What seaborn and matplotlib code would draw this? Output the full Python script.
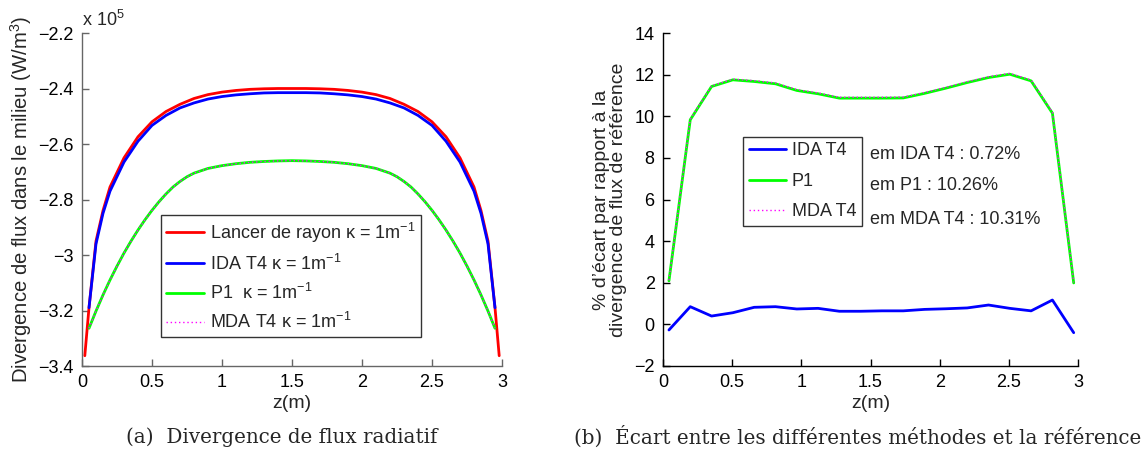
import matplotlib
matplotlib.use("Agg")
import matplotlib.pyplot as plt
import seaborn as sns
import pandas as pd
from matplotlib.ticker import FuncFormatter, MultipleLocator

# ---------------- data (a): flux divergence, units of 1e5 W/m^3 ----------------
z_ray = [0.02, 0.05, 0.1, 0.15, 0.2, 0.3, 0.4, 0.5, 0.6, 0.7, 0.8, 0.9, 1.0, 1.1, 1.2, 1.3, 1.4, 1.5,
         1.6, 1.7, 1.8, 1.9, 2.0, 2.1, 2.2, 2.3, 2.4, 2.5, 2.6, 2.7, 2.8, 2.85, 2.9, 2.95, 2.98]
ray_flux = [-3.363, -3.19, -2.95, -2.84, -2.755, -2.65, -2.574, -2.52, -2.483, -2.457, -2.436, -2.422,
            -2.413, -2.407, -2.403, -2.401, -2.400, -2.400,
            -2.400, -2.401, -2.403, -2.407, -2.413, -2.422, -2.436, -2.457, -2.483, -2.52, -2.574,
            -2.65, -2.755, -2.84, -2.95, -3.19, -3.363]

z_ida = [0.05, 0.1, 0.15, 0.2, 0.3, 0.4, 0.5, 0.6, 0.7, 0.8, 0.9, 1.0, 1.1, 1.2, 1.3, 1.4, 1.5,
         1.6, 1.7, 1.8, 1.9, 2.0, 2.1, 2.2, 2.3, 2.4, 2.5, 2.6, 2.7, 2.8, 2.85, 2.9, 2.95]
ida_flux = [-3.19, -2.96, -2.85, -2.77, -2.665, -2.59, -2.533, -2.497, -2.47, -2.452, -2.438, -2.429,
            -2.423, -2.419, -2.416, -2.415, -2.415,
            -2.415, -2.416, -2.419, -2.423, -2.429, -2.438, -2.452, -2.47, -2.497, -2.533, -2.59,
            -2.665, -2.77, -2.85, -2.96, -3.19]

z_p1 = [0.05, 0.1, 0.15, 0.2, 0.25, 0.3, 0.35, 0.4, 0.45, 0.5, 0.55, 0.6, 0.65, 0.7, 0.75, 0.8,
        0.9, 1.0, 1.1, 1.2, 1.3, 1.4, 1.5, 1.6, 1.7, 1.8, 1.9, 2.0, 2.1, 2.2, 2.25, 2.3, 2.35,
        2.4, 2.45, 2.5, 2.55, 2.6, 2.65, 2.7, 2.75, 2.8, 2.85, 2.9, 2.95]
p1_flux = [-3.264, -3.202, -3.144, -3.090, -3.040, -2.993, -2.950, -2.910, -2.873, -2.839, -2.808,
           -2.780, -2.755, -2.735, -2.718, -2.705, -2.688, -2.678, -2.671, -2.666, -2.663, -2.661,
           -2.660, -2.661, -2.663, -2.666, -2.671, -2.678, -2.688, -2.705, -2.718, -2.735, -2.755,
           -2.780, -2.808, -2.839, -2.873, -2.910, -2.950, -2.993, -3.040, -3.090, -3.144, -3.202,
           -3.264]
mda_flux = [-3.264, -3.202, -3.144, -3.090, -3.040, -2.993, -2.950, -2.910, -2.873, -2.839, -2.808,
            -2.780, -2.755, -2.735, -2.718, -2.705, -2.688, -2.678, -2.671, -2.666, -2.663, -2.661,
            -2.660, -2.661, -2.663, -2.666, -2.671, -2.678, -2.688, -2.705, -2.718, -2.735, -2.755,
            -2.780, -2.808, -2.839, -2.873, -2.910, -2.950, -2.993, -3.040, -3.090, -3.144, -3.202,
            -3.264]

# ---------------- data (b): relative error in % ----------------
z_err = [0.043, 0.197, 0.351, 0.505, 0.659, 0.813, 0.967, 1.121, 1.275, 1.429, 1.583, 1.737,
         1.891, 2.045, 2.199, 2.353, 2.507, 2.661, 2.815, 2.969]
ida_err = [-0.27, 0.85, 0.40, 0.56, 0.82, 0.85, 0.74, 0.77, 0.63, 0.63, 0.65, 0.65, 0.72, 0.75,
           0.79, 0.93, 0.77, 0.65, 1.17, -0.40]
p1_err = [2.09, 9.83, 11.43, 11.75, 11.67, 11.56, 11.24, 11.08, 10.87, 10.87, 10.87, 10.88, 11.10,
          11.35, 11.62, 11.86, 12.02, 11.70, 10.15, 1.99]
mda_err = [2.12, 9.86, 11.46, 11.78, 11.71, 11.60, 11.28, 11.12, 10.91, 10.91, 10.91, 10.92, 11.14,
           11.39, 11.66, 11.90, 12.06, 11.74, 10.19, 2.02]
mean_labels = ["em IDA T4 : 0.72%", "em P1 : 10.26%", "em MDA T4 : 10.31%"]
mean_label_y = [8.15, 6.65, 5.05]

# ---------------- style ----------------
sns.set_style("white")
plt.rcParams["font.family"] = ["Liberation Sans", "DejaVu Sans"]
plt.rcParams["mathtext.fontset"] = "custom"
plt.rcParams["mathtext.rm"] = "Liberation Sans"
plt.rcParams["mathtext.it"] = "Liberation Sans:italic"
plt.rcParams["axes.unicode_minus"] = True

W, H = 1146, 459
fig = plt.figure(figsize=(W / 100, H / 100), dpi=100)
ax1 = fig.add_axes([82 / W, (H - 366) / H, 420 / W, 333 / H])
ax2 = fig.add_axes([663 / W, (H - 366) / H, 415 / W, 333 / H])

def gfmt(v, pos):
    s = "%g" % round(v, 6)
    return s.replace("-", "\u2212")

def df(x, y):
    return pd.DataFrame({"z": x, "v": y})

kappa = "\u03ba = 1m$^{\u22121}$"
LFS = 13
LEGKW = dict(borderaxespad=0, fontsize=LFS, frameon=True, fancybox=False, edgecolor="black",
             handlelength=2.1, handletextpad=0.3, borderpad=0.3)

# ---- (a)
sns.lineplot(data=df(z_ray, ray_flux), x="z", y="v", ax=ax1, color="#ff0000", lw=2,
             sort=False, estimator=None, label="Lancer de rayon " + kappa)
sns.lineplot(data=df(z_ida, ida_flux), x="z", y="v", ax=ax1, color="#0000ff", lw=2,
             sort=False, estimator=None, label="IDA T4 " + kappa)
sns.lineplot(data=df(z_p1, p1_flux), x="z", y="v", ax=ax1, color="#00ff00", lw=2,
             sort=False, estimator=None, label="P1  " + kappa)
sns.lineplot(data=df(z_p1, mda_flux), x="z", y="v", ax=ax1, color="#ff00ff", lw=1,
             linestyle=(0, (1, 2)), sort=False, estimator=None, label="MDA T4 " + kappa)
ax1.set_xlim(0, 3)
ax1.set_ylim(-3.4, -2.2)
ax1.yaxis.set_major_locator(MultipleLocator(0.2))
ax1.xaxis.set_major_locator(MultipleLocator(0.5))
ax1.xaxis.set_major_formatter(FuncFormatter(gfmt))
ax1.yaxis.set_major_formatter(FuncFormatter(gfmt))
ax1.set_xlabel("z(m)", fontsize=14, labelpad=3)
ax1.set_ylabel("Divergence de flux dans le milieu (W/m$^3$)", fontsize=14.6, labelpad=3)
ax1.text(0.0, 1.01, "x 10$^5$", transform=ax1.transAxes, fontsize=13, ha="left", va="bottom")
leg1 = ax1.legend(loc="upper left", bbox_to_anchor=(0.188, 0.453), labelspacing=0.5, **LEGKW)
leg1.get_frame().set_linewidth(1.0)

# ---- (b)
sns.lineplot(data=df(z_err, ida_err), x="z", y="v", ax=ax2, color="#0000ff", lw=2,
             sort=False, estimator=None, label="IDA T4")
sns.lineplot(data=df(z_err, p1_err), x="z", y="v", ax=ax2, color="#00ff00", lw=2,
             sort=False, estimator=None, label="P1")
sns.lineplot(data=df(z_err, mda_err), x="z", y="v", ax=ax2, color="#ff00ff", lw=1,
             linestyle=(0, (1, 2)), sort=False, estimator=None, label="MDA T4")
ax2.set_xlim(0, 3)
ax2.set_ylim(-2, 14)
ax2.yaxis.set_major_locator(MultipleLocator(2))
ax2.xaxis.set_major_locator(MultipleLocator(0.5))
ax2.xaxis.set_major_formatter(FuncFormatter(gfmt))
ax2.yaxis.set_major_formatter(FuncFormatter(gfmt))
ax2.set_xlabel("z(m)", fontsize=14, labelpad=3)
ax2.set_ylabel("% d\u2019\u00e9cart par rapport \u00e0 la\ndivergence de flux de r\u00e9f\u00e9rence",
               fontsize=14, labelpad=5, linespacing=1.05)
leg2 = ax2.legend(loc="upper left", bbox_to_anchor=(0.193, 0.688), labelspacing=0.75, **LEGKW)
leg2.get_frame().set_linewidth(1.0)
for lab, yv in zip(mean_labels, mean_label_y):
    ax2.text(1.50, yv, lab, fontsize=LFS, ha="left", va="center")

for ax, sc in ((ax1, "#666666"), (ax2, "#000000")):
    for s in ("top", "right"):
        ax.spines[s].set_visible(False)
    for s in ("left", "bottom"):
        ax.spines[s].set_color(sc)
        ax.spines[s].set_linewidth(1.0)
    ax.tick_params(direction="in", length=5, width=1, colors=sc, labelcolor="black",
                   labelsize=13, left=True, bottom=True, pad=6)

# captions
fig.text(282 / W, 1 - 437 / H, "(a)  Divergence de flux radiatif", ha="center", va="center",
         fontsize=14.3, family=["DejaVu Serif"])
fig.text(858 / W, 1 - 437 / H, "(b)  \u00c9cart entre les diff\u00e9rentes m\u00e9thodes et la r\u00e9f\u00e9rence",
         ha="center", va="center", fontsize=14.3, family=["DejaVu Serif"])

fig.savefig("out.png", dpi=100)
